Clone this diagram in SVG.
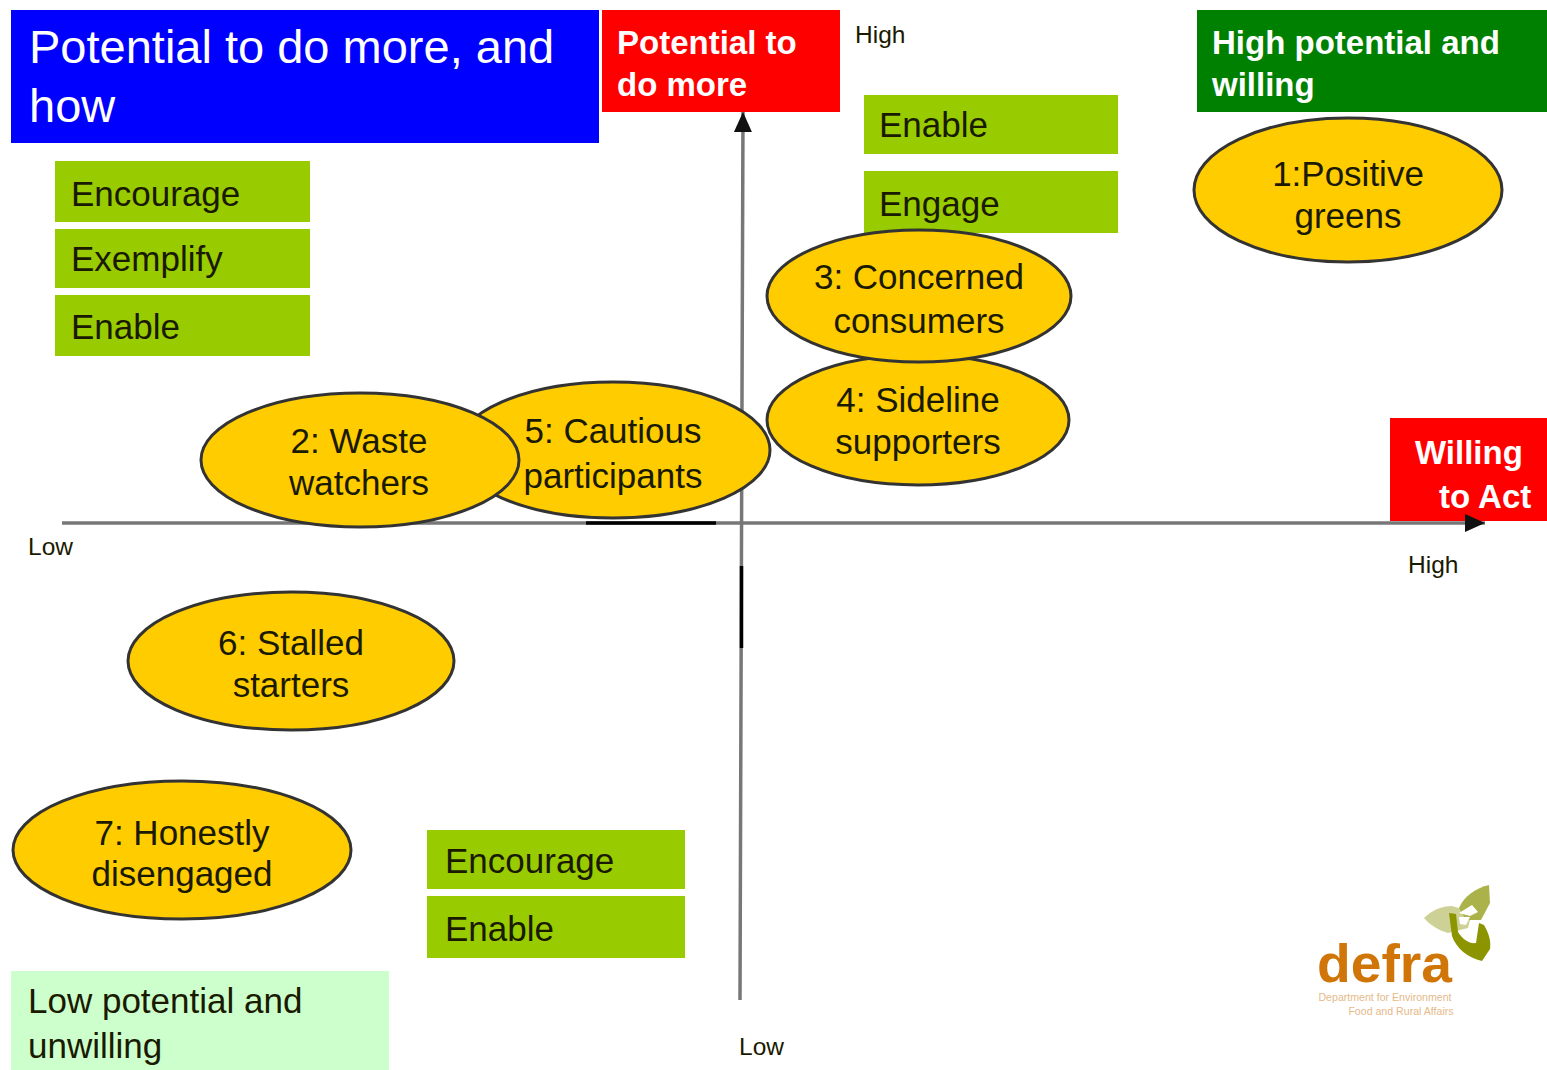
<svg xmlns="http://www.w3.org/2000/svg" width="1547" height="1070" viewBox="0 0 1547 1070">
<style>
text{font-family:"Liberation Sans",Arial,sans-serif;fill:#1a1a00}
.g{fill:#99cc00}
.e{fill:#ffcc00;stroke:#333;stroke-width:3}
.t{font-size:35px}
.b{font-size:33px}
.c{text-anchor:middle}
.w{fill:#fff;font-weight:bold}
.s{font-size:24.5px}
.ax{stroke:#777;stroke-width:3.5;fill:none}
.bk{stroke:#000;stroke-width:3.5;fill:none}
</style>
<defs><marker id="ah" markerUnits="userSpaceOnUse" markerWidth="22" markerHeight="20" refX="20" refY="10" orient="auto"><path d="M0 1L20 10L0 19z" fill="#111"/></marker></defs>
<g id="title"><rect x="11" y="10" width="588" height="133" fill="#0000ff"/><text x="29" y="63" font-size="47" style="fill:#fff">Potential to do more, and</text><text x="29" y="122" font-size="47" style="fill:#fff">how</text></g>
<g id="label-potential"><rect x="602" y="10" width="238" height="102" fill="#ff0000"/><text class="b w" x="617" y="54">Potential to</text><text class="b w" x="617" y="96">do more</text></g>
<g id="label-high-potential"><rect x="1197" y="10" width="350" height="102" fill="#008000"/><text class="b" x="1212" y="54" style="fill:#fff;font-weight:bold">High potential and</text><text class="b" x="1212" y="96" style="fill:#fff;font-weight:bold">willing</text></g>
<g id="label-willing"><rect x="1390" y="418" width="157" height="103" fill="#ff0000"/><text class="b w" x="1415" y="464">Willing</text><text class="b w" x="1439" y="508">to Act</text></g>
<g id="label-low-potential"><rect x="11" y="971" width="378" height="99" fill="#ccffcc"/><text class="t" x="28" y="1013">Low potential and</text><text class="t" x="28" y="1058">unwilling</text></g>
<g id="connectors">
<path class="ax" d="M62 523H1485" marker-end="url(#ah)"/>
<path class="bk" d="M586 523H716"/>
<path class="ax" d="M740 1000L741.500 540L743 112" marker-end="url(#ah)"/>
<path class="bk" d="M741.500 566V648"/>
</g>
<g id="axis-labels">
<text class="s" x="855" y="43">High</text><text class="s" x="28" y="555">Low</text><text class="s" x="1408" y="573">High</text><text class="s" x="739" y="1055">Low</text>
</g>
<g id="action-enable-1"><rect class="g" x="864" y="95" width="254" height="59"/><text class="t" x="879" y="137">Enable</text></g>
<g id="action-engage"><rect class="g" x="864" y="171" width="254" height="62"/><text class="t" x="879" y="216">Engage</text></g>
<g id="action-encourage-1"><rect class="g" x="55" y="161" width="255" height="61"/><text class="t" x="71" y="206">Encourage</text></g>
<g id="action-exemplify"><rect class="g" x="55" y="229" width="255" height="59"/><text class="t" x="71" y="271">Exemplify</text></g>
<g id="action-enable-2"><rect class="g" x="55" y="295" width="255" height="61"/><text class="t" x="71" y="339">Enable</text></g>
<g id="action-encourage-2"><rect class="g" x="427" y="830" width="258" height="59"/><text class="t" x="445" y="873">Encourage</text></g>
<g id="action-enable-3"><rect class="g" x="427" y="896" width="258" height="62"/><text class="t" x="445" y="941">Enable</text></g>
<g id="seg-1"><ellipse class="e" cx="1348" cy="190" rx="154" ry="72"/><text class="t c" x="1348" y="186">1:Positive</text><text class="t c" x="1348" y="228">greens</text></g>
<g id="seg-4"><ellipse class="e" cx="918" cy="420" rx="151" ry="65"/><text class="t c" x="918" y="412">4: Sideline</text><text class="t c" x="918" y="454">supporters</text></g>
<g id="seg-3"><ellipse class="e" cx="919" cy="296" rx="152" ry="66"/><text class="t c" x="919" y="289">3: Concerned</text><text class="t c" x="919" y="333">consumers</text></g>
<g id="seg-5"><ellipse class="e" cx="613" cy="450" rx="157" ry="68"/><text class="t c" x="613" y="443">5: Cautious</text><text class="t c" x="613" y="488">participants</text></g>
<g id="seg-2"><ellipse class="e" cx="360" cy="460" rx="159" ry="67"/><text class="t c" x="359" y="453">2: Waste</text><text class="t c" x="359" y="495">watchers</text></g>
<g id="seg-6"><ellipse class="e" cx="291" cy="661" rx="163" ry="69"/><text class="t c" x="291" y="655">6: Stalled</text><text class="t c" x="291" y="697">starters</text></g>
<g id="seg-7"><ellipse class="e" cx="182" cy="850" rx="169" ry="69"/><text class="t c" x="182" y="845">7: Honestly</text><text class="t c" x="182" y="886">disengaged</text></g>
<g id="logo">
<path d="M1424 918C1432 910 1442 906 1452 906L1472 912L1468 928L1448 933C1438 930 1430 925 1424 918z" fill="#cdd196"/>
<path d="M1459 908C1464 896 1476 888 1489 885L1490 903L1481 920L1466 920z" fill="#abb24a"/>
<path d="M1449 913L1456 914L1458 932C1463 940 1470 944 1476 943L1479 923L1484 925C1490 935 1491 943 1490 949L1482 961C1468 958 1456 948 1452 936z" fill="#8c9400"/>
<path d="M1459 913L1472 905L1478 912L1470 916zM1459 917L1470 917L1466 925L1460 924zM1460 931L1472 930L1474 941L1466 939z" fill="#fff"/>
<text x="1317" y="982" font-size="54" style="fill:#d07508;font-weight:bold" textLength="135" lengthAdjust="spacingAndGlyphs">defra</text>
<text x="1385" y="1001" font-size="10.600" text-anchor="middle" style="fill:#e5b98a">Department for Environment</text>
<text x="1401" y="1015" font-size="10.600" text-anchor="middle" style="fill:#e5b98a">Food and Rural Affairs</text>
</g>
</svg>
